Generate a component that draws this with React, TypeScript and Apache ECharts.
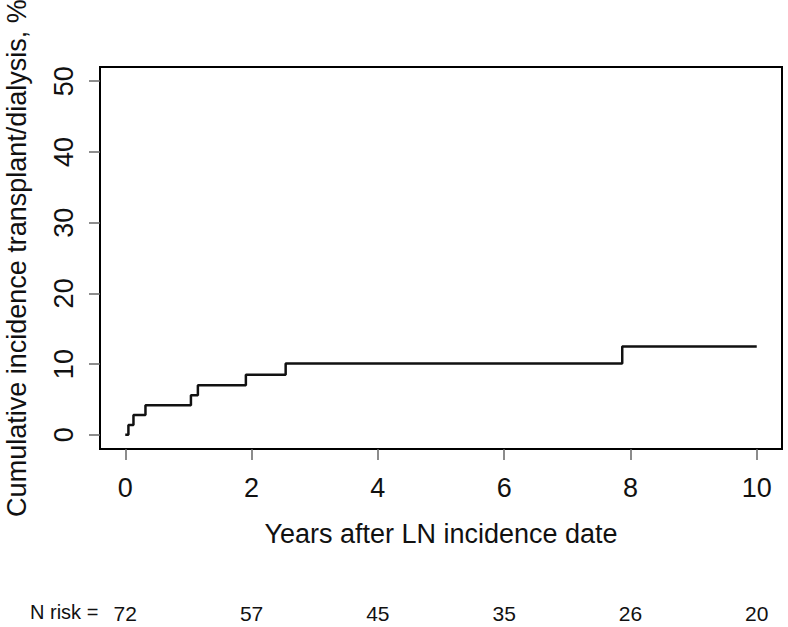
import React, { useEffect, useRef } from "react";
import * as echarts from "echarts";

// Step-function data (years after LN incidence date, cumulative incidence %)
const years = [0, 0.05, 0.13, 0.32, 1.04, 1.15, 1.91, 2.54, 7.87, 10.0];
const incidence = [0, 1.4, 2.8, 4.2, 5.6, 7.0, 8.5, 10.1, 12.5, 12.5];

// Axis ticks
const xTicks = [0, 2, 4, 6, 8, 10];
const yTicks = [0, 10, 20, 30, 40, 50];

// Number at risk at each x tick
const nRisk = [72, 57, 45, 35, 26, 20];

const FONT = "'Liberation Sans', Arial, Helvetica, sans-serif";

export default function App() {
  const ref = useRef<HTMLDivElement>(null);

  useEffect(() => {
    document.body.style.margin = "0";
    if (!ref.current) return;
    const chart = echarts.init(ref.current, null, { renderer: "svg" });
    const riskMap: Record<string, number> = {};
    xTicks.forEach((t, i) => (riskMap[String(t)] = nRisk[i]));

    chart.setOption({
      animation: false,
      backgroundColor: "#ffffff",
      textStyle: { fontFamily: FONT },
      grid: {
        left: 100,
        right: 6,
        top: 67,
        bottom: 178,
        show: true,
        borderColor: "#000",
        borderWidth: 2,
        backgroundColor: "transparent",
        outerBoundsMode: "none",
        containLabel: false,
      },
      xAxis: [
        {
          type: "value",
          min: -0.4,
          max: 10.4,
          name: "Years after LN incidence date",
          nameLocation: "middle",
          nameGap: 71,
          nameTextStyle: { fontSize: 27, color: "#111", fontFamily: FONT },
          axisLine: { show: false, onZero: false },
          splitLine: { show: false },
          axisTick: {
            show: true,
            inside: false,
            length: 11,
            customValues: xTicks,
            lineStyle: { color: "#666", width: 1.5 },
          },
          axisLabel: {
            customValues: xTicks,
            fontSize: 27,
            color: "#111",
            margin: 25,
            fontFamily: FONT,
          },
        },
        {
          type: "value",
          min: -0.4,
          max: 10.4,
          position: "bottom",
          offset: 146,
          axisLine: { show: false, onZero: false },
          splitLine: { show: false },
          axisTick: { show: false },
          axisLabel: {
            customValues: xTicks,
            fontSize: 21,
            color: "#111",
            margin: 8,
            fontFamily: FONT,
            formatter: (v: number) => String(riskMap[String(v)] ?? ""),
          },
        },
      ],
      yAxis: {
        type: "value",
        min: -2,
        max: 52,
        name: "Cumulative incidence transplant/dialysis, %",
        nameLocation: "middle",
        nameGap: 70,
        nameRotate: 90,
        nameTextStyle: { fontSize: 27, color: "#111", fontFamily: FONT },
        axisLine: { show: false, onZero: false },
        splitLine: { show: false },
        axisTick: {
          show: true,
          inside: false,
          length: 11,
          customValues: yTicks,
          lineStyle: { color: "#666", width: 1.5 },
        },
        axisLabel: {
          customValues: yTicks,
          rotate: 90,
          fontSize: 27,
          color: "#111",
          margin: 23,
          fontFamily: FONT,
        },
      },
      graphic: [
        {
          type: "text",
          left: 30,
          top: 602,
          style: {
            text: "N risk =",
            fontSize: 20,
            fill: "#111",
            fontFamily: FONT,
          },
        },
      ],
      series: [
        {
          type: "line",
          step: "end",
          xAxisIndex: 0,
          yAxisIndex: 0,
          symbol: "none",
          lineStyle: { color: "#111", width: 2.5 },
          data: years.map((x, i) => [x, incidence[i]]),
        },
      ],
    });

    return () => chart.dispose();
  }, []);

  return <div ref={ref} style={{ width: 788, height: 627 }} />;
}
